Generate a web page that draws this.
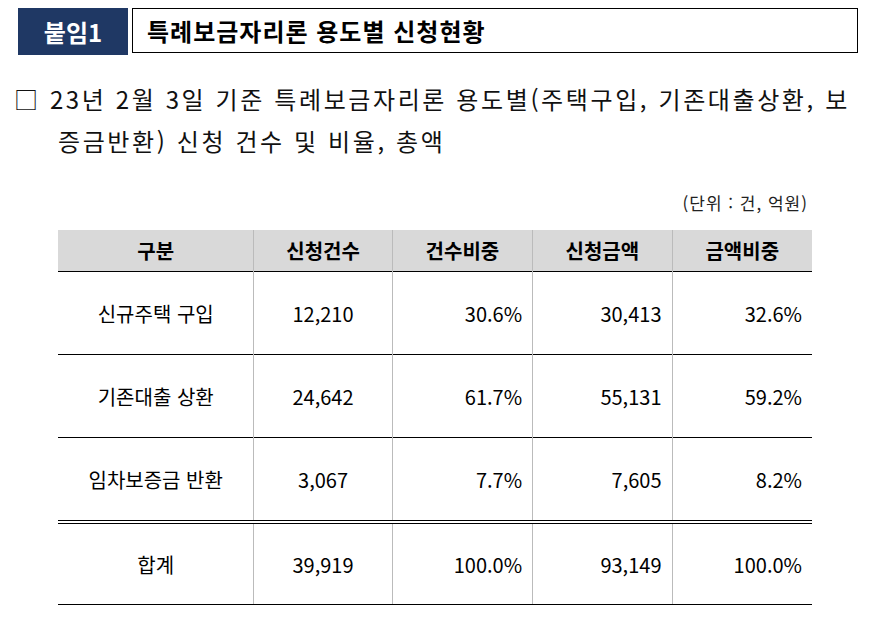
<!DOCTYPE html>
<html lang="ko">
<head>
<meta charset="UTF-8">
<title>특례보금자리론 용도별 신청현황</title>
<script src="https://cdn.jsdelivr.net/npm/chart.js"></script>
<style>
  body { margin:0; width:872px; height:619px; background:#fff; font-family:"Noto Sans CJK KR", sans-serif; position:relative; overflow:hidden; }
  .tag { position:absolute; left:18px; top:8px; width:110px; height:47px; background:#1f3864; color:#fff; font-size:24px; font-weight:bold; display:flex; align-items:center; justify-content:center; }
  .title { position:absolute; left:132px; top:8px; width:726px; height:45px; border:1px solid #000; font-size:24px; font-weight:bold; display:flex; align-items:center; padding-left:14px; box-sizing:border-box; letter-spacing:1px; }
  .lead { position:absolute; left:14px; top:78px; width:860px; font-size:24px; line-height:42px; color:#111; }
  .lead .l1 { letter-spacing:2.6px; }
  .lead .l2 { padding-left:44px; letter-spacing:2.6px; }
  .unit { position:absolute; right:64px; top:190px; font-size:17px; color:#222; letter-spacing:1px; }
  table { position:absolute; left:58px; top:230px; width:754px; border-collapse:collapse; font-size:20px; }
  th { background:#d9d9d9; height:41px; padding:0; font-weight:bold; border-left:1px solid #bbb; border-right:1px solid #bbb; }
  td { height:82px; padding:0; border-top:1px solid #000; border-left:1px solid #bbb; border-right:1px solid #bbb; }
  th:first-child, td:first-child { border-left:none; }
  th:last-child, td:last-child { border-right:none; }
  tr:last-child td { height:80px; border-top:4px double #000; border-bottom:1px solid #000; }
  .c { text-align:center; } .r { text-align:right; padding-right:10px; }
</style>
</head>
<body>
<div class="tag">붙임1</div>
<div class="title">특례보금자리론 용도별 신청현황</div>
<div class="lead"><span class="l1">□ 23년 2월 3일 기준 특례보금자리론 용도별(주택구입, 기존대출상환, 보</span><br><span class="l2">증금반환) 신청 건수 및 비율, 총액</span></div>
<div class="unit">(단위 : 건, 억원)</div>
<table id="tbl"></table>
<script>
  const headers = ['구분', '신청건수', '건수비중', '신청금액', '금액비중'];
  const categories = ['신규주택 구입', '기존대출 상환', '임차보증금 반환', '합계'];
  const counts = ['12,210', '24,642', '3,067', '39,919'];
  const countShares = ['30.6%', '61.7%', '7.7%', '100.0%'];
  const amounts = ['30,413', '55,131', '7,605', '93,149'];
  const amountShares = ['32.6%', '59.2%', '8.2%', '100.0%'];

  const widths = [197, 138, 140, 139, 140];
  const tbl = document.getElementById('tbl');
  let html = '<tr>' + headers.map((h, i) => '<th style="width:' + widths[i] + 'px">' + h + '</th>').join('') + '</tr>';
  categories.forEach((c, i) => {
    html += '<tr><td class="c">' + c + '</td><td class="c">' + counts[i] + '</td><td class="r">' + countShares[i] +
      '</td><td class="r">' + amounts[i] + '</td><td class="r">' + amountShares[i] + '</td></tr>';
  });
  tbl.innerHTML = html;
</script>
</body>
</html>
